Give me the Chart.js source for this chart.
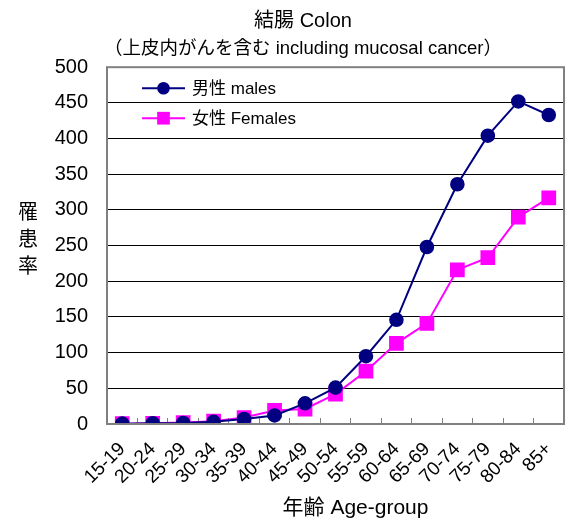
<!DOCTYPE html>
<html>
<head>
<meta charset="utf-8">
<script src="https://cdn.jsdelivr.net/npm/chart.js@4"></script>
<style>
  html, body { margin: 0; padding: 0; background: #fff; }
  #wrap { width: 569px; height: 518px; }
</style>
</head>
<body>
<div id="wrap"><canvas id="chart" width="569" height="518"></canvas></div>
<script>
var FONT = "'Liberation Sans', 'Noto Sans CJK JP', sans-serif";

var ageGroups = ['15-19', '20-24', '25-29', '30-34', '35-39', '40-44', '45-49',
    '50-54', '55-59', '60-64', '65-69', '70-74', '75-79', '80-84', '85+'];
var malesRate = [0.5, 1, 1.5, 3, 7, 12, 29, 51, 95, 146, 248, 336, 404, 452, 433];
var femalesRate = [0.5, 1, 2, 4, 9, 19, 21, 42, 74, 113, 141, 216, 233, 290, 317];
var yTicks = [0, 50, 100, 150, 200, 250, 300, 350, 400, 450, 500];

var seriesNames = ['男性 males', '女性 Females'];
var titleText = '結腸 Colon';
var subtitleText = '（上皮内がんを含む including mucosal cancer）';
var xTitle = '年齢 Age-group';
var yTitle = ['罹', '患', '率'];

// frame, legend in plot area, axis titles
var extras = {
    id: 'extras',
    afterDraw: function (chart) {
        var ctx = chart.ctx;
        var a = chart.chartArea;
        ctx.save();
        // gray frame round the plot
        ctx.strokeStyle = '#808080';
        ctx.lineWidth = 2;
        ctx.strokeRect(a.left, a.top, a.right - a.left, a.bottom - a.top);

        // legend
        ctx.font = '17px ' + FONT;
        ctx.textBaseline = 'middle';
        ctx.textAlign = 'left';
        chart.data.datasets.forEach(function (ds, i) {
            var y = a.top + 21 + i * 30;
            var x1 = a.left + 35, x2 = a.left + 78;
            var cx = (x1 + x2) / 2;
            ctx.strokeStyle = ds.borderColor;
            ctx.lineWidth = 2;
            ctx.beginPath();
            ctx.moveTo(x1, y);
            ctx.lineTo(x2, y);
            ctx.stroke();
            ctx.fillStyle = ds.pointBackgroundColor;
            ctx.beginPath();
            if (ds.pointStyle === 'circle') {
                ctx.arc(cx, y, ds.pointRadius, 0, Math.PI * 2);
            } else {
                var s = ds.pointRadius * Math.SQRT1_2;
                ctx.rect(cx - s, y - s, 2 * s, 2 * s);
            }
            ctx.fill();
            ctx.fillStyle = '#000';
            ctx.fillText(ds.label, x2 + 7, y + 1);
        });

        // y title, one character per line
        ctx.font = '20px ' + FONT;
        ctx.textAlign = 'center';
        ctx.fillStyle = '#000';
        var mid = (a.top + a.bottom) / 2;
        yTitle.forEach(function (ch, i) {
            ctx.fillText(ch, 28, mid - 5 + (i - 1) * 27);
        });

        // x title
        ctx.font = '21px ' + FONT;
        ctx.fillText(xTitle, (a.left + a.right) / 2 + 20, chart.height - 10);
        ctx.restore();
    }
};

var ctx = document.getElementById('chart').getContext('2d');
var chart = new Chart(ctx, {
    type: 'line',
    data: {
        labels: ageGroups,
        datasets: [{
            label: seriesNames[0],
            data: malesRate,
            borderColor: '#000080',
            backgroundColor: '#000080',
            pointBackgroundColor: '#000080',
            pointBorderColor: '#000080',
            pointStyle: 'circle',
            pointRadius: 6.3,
            borderWidth: 2,
            tension: 0
        }, {
            label: seriesNames[1],
            data: femalesRate,
            borderColor: '#ff00ff',
            backgroundColor: '#ff00ff',
            pointBackgroundColor: '#ff00ff',
            pointBorderColor: '#ff00ff',
            pointStyle: 'rect',
            pointRadius: 9,
            borderWidth: 2,
            tension: 0
        }]
    },
    options: {
        responsive: false,
        animation: false,
        layout: { autoPadding: false, padding: { left: 42, right: 5, top: 0, bottom: 0 } },
        plugins: {
            legend: { display: false },
            tooltip: { enabled: false },
            title: {
                display: true,
                text: titleText,
                color: '#000',
                font: { family: FONT, size: 20, weight: 'normal', lineHeight: 1.2 },
                padding: { top: 9, bottom: 5 }
            },
            subtitle: {
                display: true,
                text: subtitleText,
                color: '#000',
                font: { family: FONT, size: 18.5, weight: 'normal', lineHeight: 1.2 },
                padding: { top: 0, bottom: 7 }
            }
        },
        scales: {
            x: {
                offset: true,
                afterFit: function (scale) {
                    // rotated labels may hang outside the plot, like the original
                    scale.paddingLeft = 0;
                    scale.paddingRight = 0;
                    scale.height = 94;
                },
                grid: {
                    offset: true,
                    drawOnChartArea: false,
                    drawTicks: true,
                    tickLength: -6,
                    color: '#808080'
                },
                border: { display: false },
                ticks: {
                    color: '#000',
                    font: { family: FONT, size: 19 },
                    minRotation: 45,
                    maxRotation: 45,
                    padding: 20,
                    autoSkip: false
                }
            },
            y: {
                min: 0,
                max: 500,
                afterBuildTicks: function (axis) {
                    axis.ticks = yTicks.map(function (v) { return { value: v }; });
                },
                afterFit: function (scale) {
                    scale.width = 65;
                },
                grid: {
                    drawTicks: false,
                    color: function (c) {
                        return (c.tick && (c.tick.value === 500 || c.tick.value === 0)) ? 'rgba(0,0,0,0)' : '#000';
                    },
                    lineWidth: 1
                },
                border: { display: false },
                ticks: {
                    color: '#000',
                    font: { family: FONT, size: 20 },
                    padding: 19
                }
            }
        }
    },
    plugins: [extras]
});
</script>
</body>
</html>
